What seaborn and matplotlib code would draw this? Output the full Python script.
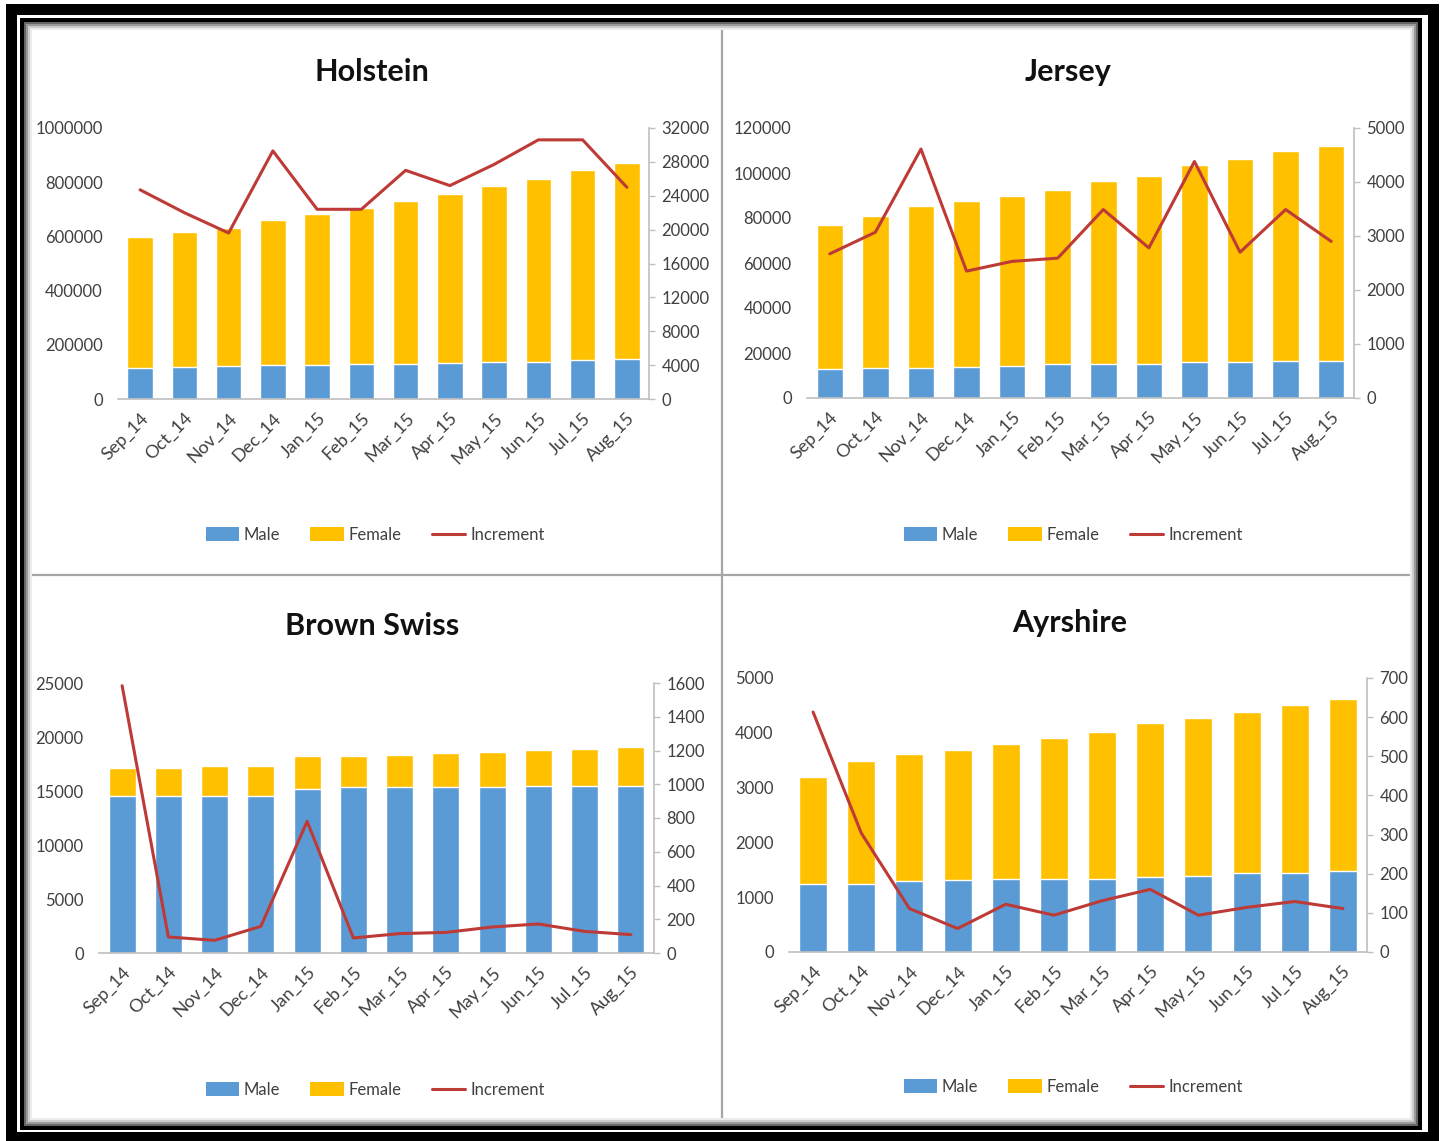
import numpy as np
import pandas as pd
import matplotlib
matplotlib.use("Agg")
import matplotlib.pyplot as plt
from matplotlib.patches import Rectangle, Patch
from matplotlib.lines import Line2D
import seaborn as sns

# ---------------- data ----------------
months = ["Sep_14", "Oct_14", "Nov_14", "Dec_14", "Jan_15", "Feb_15",
          "Mar_15", "Apr_15", "May_15", "Jun_15", "Jul_15", "Aug_15"]

holstein_male = [116000, 118000, 120000, 125000, 126000, 128000, 130000, 131000, 136000, 138000, 144000, 146000]
holstein_female = [481000, 497000, 510000, 534000, 555000, 575000, 599000, 627000, 651000, 675000, 702000, 726000]
holstein_inc = [24700, 22000, 19600, 29300, 22400, 22400, 27000, 25200, 27700, 30600, 30600, 25000]

jersey_male = [13000, 13200, 13400, 14000, 14200, 15000, 15200, 15300, 15800, 16000, 16400, 16600]
jersey_female = [64000, 67500, 71800, 73400, 75700, 77600, 81100, 83200, 87900, 90200, 93200, 95500]
jersey_inc = [2670, 3070, 4610, 2350, 2530, 2590, 3490, 2780, 4380, 2700, 3490, 2900]

brown_male = [14500, 14500, 14570, 14500, 15190, 15340, 15340, 15340, 15340, 15490, 15450, 15490]
brown_female = [2630, 2630, 2710, 2850, 3020, 2870, 3020, 3180, 3270, 3280, 3440, 3580]
brown_inc = [1584, 95, 75, 158, 780, 89, 115, 122, 154, 172, 128, 109]

ayr_male = [1238, 1250, 1299, 1311, 1341, 1341, 1341, 1360, 1390, 1433, 1445, 1482]
ayr_female = [1963, 2244, 2311, 2378, 2452, 2555, 2665, 2817, 2878, 2939, 3067, 3134]
ayr_inc = [613, 304, 111, 60, 122, 94, 131, 160, 94, 114, 129, 111]

titles = ["Holstein", "Jersey", "Brown Swiss", "Ayrshire"]
legend_labels = ["Male", "Female", "Increment"]

# ---------------- style ----------------
sns.set_style("white")
plt.rcParams["font.family"] = ["Lato", "DejaVu Sans"]

MALE_C = "#5B9BD5"
FEMALE_C = "#FFC000"
LINE_C = "#BE3A36"
TXT_C = "#404040"
AX_C = "#BFBFBF"
FS = 12

W, H = 1442, 1141
fig = plt.figure(figsize=(W / 100, H / 100), dpi=100)
fig.patch.set_facecolor("white")


def fx(px):
    return px / W


def fy(py):
    return 1 - py / H


panels = [
    dict(male=holstein_male, female=holstein_female, inc=holstein_inc,
         box=(118, 649, 128, 399), ylim=(0, 1000000), ystep=200000,
         y2lim=(0, 32000), y2step=4000, title=(372, 72), leg=(375, 535)),
    dict(male=jersey_male, female=jersey_female, inc=jersey_inc,
         box=(807, 1354, 128, 398), ylim=(0, 120000), ystep=20000,
         y2lim=(0, 5000), y2step=1000, title=(1068, 72), leg=(1073, 535)),
    dict(male=brown_male, female=brown_female, inc=brown_inc,
         box=(99, 654, 683, 953), ylim=(0, 25000), ystep=5000,
         y2lim=(0, 1600), y2step=200, title=(372, 626), leg=(375, 1090)),
    dict(male=ayr_male, female=ayr_female, inc=ayr_inc,
         box=(789, 1367, 678, 952), ylim=(0, 5000), ystep=1000,
         y2lim=(0, 700), y2step=100, title=(1070, 623), leg=(1073, 1087)),
]

for p, title in zip(panels, titles):
    x0, x1, yt, yb = p["box"]
    ax = fig.add_axes([fx(x0), fy(yb), fx(x1) - fx(x0), fy(yt) - fy(yb)])
    df = pd.DataFrame({"month": months,
                       "male": p["male"],
                       "female": p["female"]})
    df["total"] = df["male"] + df["female"]

    sns.barplot(data=df, x="month", y="total", color=FEMALE_C, saturation=1,
                width=0.58, ax=ax, order=months)
    sns.barplot(data=df, x="month", y="male", color=MALE_C, saturation=1,
                width=0.58, ax=ax, order=months)
    ax.set_xlim(-0.5, len(months) - 0.5)
    ax.set_ylim(*p["ylim"])
    yt_vals = np.arange(p["ylim"][0], p["ylim"][1] + 1, p["ystep"])
    ax.set_yticks(yt_vals)
    ax.set_yticklabels([str(int(v)) for v in yt_vals])
    ax.set_xlabel("")
    ax.set_ylabel("")
    ax.tick_params(axis="y", length=0, pad=11, labelsize=FS, labelcolor=TXT_C)
    ax.tick_params(axis="x", length=0, pad=8, labelsize=13, labelcolor=TXT_C)
    for lab in ax.get_xticklabels():
        lab.set_rotation(45)
        lab.set_ha("right")
        lab.set_rotation_mode("anchor")
    for s in ["left", "top", "right"]:
        ax.spines[s].set_visible(False)
    ax.spines["bottom"].set_color(AX_C)
    ax.spines["bottom"].set_linewidth(1.2)
    ax.set_facecolor("none")

    ax2 = ax.twinx()
    sns.lineplot(x=np.arange(len(months)), y=p["inc"], ax=ax2, color=LINE_C,
                 linewidth=2.2, legend=False)
    ax2.set_ylim(*p["y2lim"])
    y2_vals = np.arange(p["y2lim"][0], p["y2lim"][1] + 1, p["y2step"])
    ax2.set_yticks(y2_vals)
    ax2.set_yticklabels([str(int(v)) for v in y2_vals])
    ax2.set_ylabel("")
    ax2.tick_params(axis="y", length=4, width=1, color=AX_C, direction="out",
                    pad=5, labelsize=FS, labelcolor=TXT_C)
    for s in ["left", "top", "bottom"]:
        ax2.spines[s].set_visible(False)
    ax2.spines["right"].set_color(AX_C)
    ax2.spines["right"].set_linewidth(1.2)
    ax2.set_xlim(-0.5, len(months) - 0.5)

    tx, ty = p["title"]
    fig.text(fx(tx), fy(ty), title, ha="center", va="center",
             fontsize=22, fontweight="bold", color="#111111")

    handles = [Patch(facecolor=MALE_C, edgecolor="none"),
               Patch(facecolor=FEMALE_C, edgecolor="none"),
               Line2D([0], [0], color=LINE_C, linewidth=2.2)]
    lx, ly = p["leg"]
    fig.legend(handles, legend_labels, loc="center",
               bbox_to_anchor=(fx(lx), fy(ly)), ncol=3, frameon=False,
               fontsize=FS, handlelength=2.0, handleheight=0.9,
               handletextpad=0.3, columnspacing=1.8, labelcolor=TXT_C)

# ---------------- frame & dividers ----------------
def frame(xa, ya, xb, yb, lw_px, color):
    fig.add_artist(Rectangle((fx(xa), fy(yb)), fx(xb) - fx(xa), fy(ya) - fy(yb),
                             transform=fig.transFigure, fill=False,
                             edgecolor=color, linewidth=lw_px * 0.72,
                             zorder=10))

# divider lines
fig.add_artist(Line2D([fx(722), fx(722)], [fy(22), fy(1128)],
                      transform=fig.transFigure, color="#A6A6A6",
                      linewidth=1.6, zorder=9))
fig.add_artist(Line2D([fx(22), fx(1420)], [fy(575), fy(575)],
                      transform=fig.transFigure, color="#A6A6A6",
                      linewidth=1.6, zorder=9))

# shadow fade inside the inner frame
for off, c in [(3, "#666666"), (5, "#9a9a9a"), (7, "#cccccc"), (9, "#ececec")]:
    frame(22 + off, 20 + off, 1420 - off, 1128 - off, 2.0, c)
frame(22, 20, 1420, 1128, 4, "black")
frame(10.5, 8.5, 1433, 1136.5, 11, "black")

fig.savefig("out.png", dpi=100, facecolor="white")
